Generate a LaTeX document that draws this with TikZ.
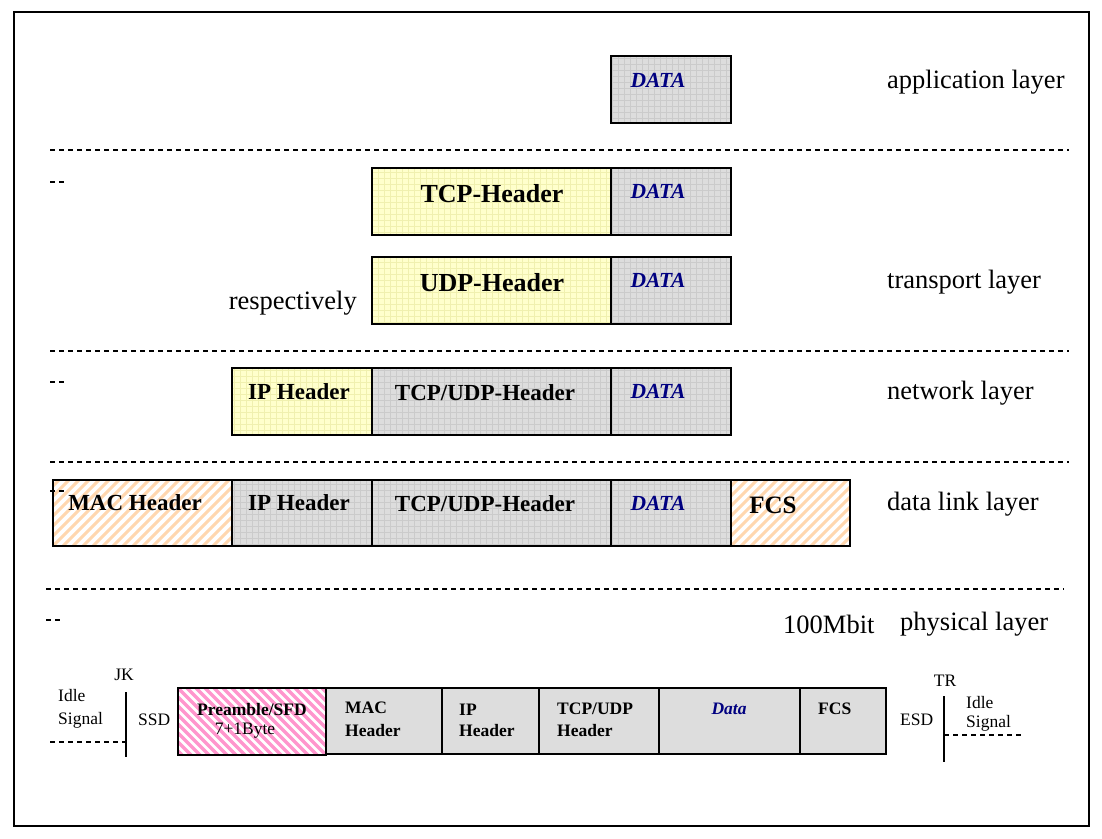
\documentclass[tikz,border=0pt]{standalone}
\usepackage{fontspec}
\setmainfont{Liberation Serif}
\usetikzlibrary{patterns.meta}
\definecolor{gfill}{RGB}{221,221,221}
\definecolor{gline}{RGB}{203,203,203}
\definecolor{yfill}{RGB}{255,255,204}
\definecolor{yline}{RGB}{240,240,175}
\definecolor{ostripe}{RGB}{255,215,175}
\definecolor{pstripe}{RGB}{255,150,205}
\definecolor{navyt}{RGB}{0,0,128}
\tikzset{
  boxline/.style={draw=black,line width=2.5pt},
  sepline/.style={line width=2pt,dash pattern=on 5pt off 4pt},
  lbl/.style={inner sep=0pt,font=\fontsize{26.5}{30}\selectfont},
  bighdr/.style={inner sep=0pt,font=\fontsize{26}{30}\selectfont\bfseries},
  midhdr/.style={inner sep=0pt,font=\fontsize{23}{27}\selectfont\bfseries},
  datatxt/.style={inner sep=0pt,text=navyt,font=\fontsize{21.5}{25}\selectfont\bfseries\itshape},
  smallt/.style={inner sep=0pt,font=\fontsize{17.5}{21}\selectfont},
  smallb/.style={inner sep=0pt,font=\fontsize{17.5}{21}\selectfont\bfseries},
  ostr/.style={draw=ostripe,line width=3pt},
  pstr/.style={draw=pstripe,line width=3.2pt},
}
\newcommand\gbx[4]{%
  \path[fill=gfill] (#1,#2) rectangle (#3,#4);
  \path[pattern={Lines[angle=0,distance=6pt,line width=0.6pt]},pattern color=gline] (#1,#2) rectangle (#3,#4);
  \path[pattern={Lines[angle=90,distance=6pt,line width=0.6pt]},pattern color=gline] (#1,#2) rectangle (#3,#4);
  \draw[boxline] (#1,#2) rectangle (#3,#4);}
\newcommand\ybx[4]{%
  \path[fill=yfill] (#1,#2) rectangle (#3,#4);
  \path[pattern={Lines[angle=0,distance=6pt,line width=0.6pt]},pattern color=yline] (#1,#2) rectangle (#3,#4);
  \path[pattern={Lines[angle=90,distance=6pt,line width=0.6pt]},pattern color=yline] (#1,#2) rectangle (#3,#4);
  \draw[boxline] (#1,#2) rectangle (#3,#4);}
\newcommand\obx[4]{%
  \path[fill=white] (#1,#2) rectangle (#3,#4);
  \begin{scope}
    \clip (#1,#2) rectangle (#3,#4);
    \foreach \k in {-8,...,20} \draw[ostr] (#1+\k*10,#4) -- ++(80,-80);
  \end{scope}
  \draw[boxline] (#1,#2) rectangle (#3,#4);}
\newcommand\pbx[4]{%
  \path[fill=white] (#1,#2) rectangle (#3,#4);
  \begin{scope}
    \clip (#1,#2) rectangle (#3,#4);
    \foreach \k in {-10,...,18} \draw[pstr] (#1+\k*9,#2) -- ++(80,80);
  \end{scope}
  \draw[boxline] (#1,#2) rectangle (#3,#4);}
\newcommand\sbx[4]{%
  \path[fill=gfill] (#1,#2) rectangle (#3,#4);
  \draw[boxline] (#1,#2) rectangle (#3,#4);}
\begin{document}
\begin{tikzpicture}[x=1pt,y=-1pt]
\useasboundingbox (0,0) rectangle (1102,838);
\path[fill=white] (0,0) rectangle (1102,838);
\draw[line width=1.8pt] (14,12) rectangle (1089,826);

% separators
\draw[sepline] (50,150) -- (1069,150);
\draw[sepline] (50,351) -- (1069,351);
\draw[sepline] (50,462) -- (1069,462);
\draw[sepline] (46,589) -- (1064,589);
\draw[sepline] (50,182) -- (67,182);
\draw[sepline] (50,382) -- (67,382);
\draw[sepline] (46,620) -- (63,620);

% application layer
\gbx{611}{56}{731}{123}
\node[datatxt] (d1) at (658,80) {DATA};
\node[lbl,anchor=west] (lapp) at (887,82) {application layer};

% transport layer
\ybx{372}{168}{611}{235}
\gbx{611}{168}{731}{235}
\node[bighdr] (tcph) at (492,194) {TCP-Header};
\node[datatxt] (d2) at (658,191) {DATA};
\ybx{372}{257}{611}{324}
\gbx{611}{257}{731}{324}
\node[bighdr] (udph) at (492,283) {UDP-Header};
\node[datatxt] (d3) at (658,280) {DATA};
\node[lbl,anchor=east] (resp) at (357,303) {respectively};
\node[lbl,anchor=west] (ltr) at (887,282) {transport layer};

% network layer
\ybx{232}{368}{372}{435}
\gbx{372}{368}{611}{435}
\gbx{611}{368}{731}{435}
\node[midhdr] (iph1) at (299,392) {IP Header};
\node[midhdr] (tuh1) at (485,393) {TCP/UDP-Header};
\node[datatxt] (d4) at (658,391) {DATA};
\node[lbl,anchor=west] (lnet) at (887,393) {network layer};

% data link layer
\obx{53}{480}{232}{546}
\gbx{232}{480}{372}{546}
\gbx{372}{480}{611}{546}
\gbx{611}{480}{731}{546}
\obx{731}{480}{850}{546}
\draw[sepline] (50,491) -- (67,491);
\node[midhdr] (mach) at (135,503) {MAC Header};
\node[midhdr] (iph2) at (299,503) {IP Header};
\node[midhdr] (tuh2) at (485,504) {TCP/UDP-Header};
\node[datatxt] (d5) at (658,503) {DATA};
\node[inner sep=0pt,font=\fontsize{25}{29}\selectfont\bfseries] (fcs1) at (773,505) {FCS};
\node[lbl,anchor=west] (ldl) at (887,504) {data link layer};

% physical layer
\node[lbl,anchor=west] (mbit) at (783,624) {100Mbit};
\node[lbl,anchor=west] (lphy) at (900,624) {physical layer};

\pbx{178}{688}{326}{755}
\sbx{326}{688}{442}{754}
\sbx{442}{688}{539}{754}
\sbx{539}{688}{659}{754}
\sbx{659}{688}{800}{754}
\sbx{800}{688}{886}{754}
\node[smallb] (pre) at (252,710) {Preamble/SFD};
\node[smallt] (byte) at (245,731) {7+1Byte};
\node[smallb,anchor=west] (mac2a) at (345,708) {MAC};
\node[smallb,anchor=west] (mac2b) at (345,731) {Header};
\node[smallb,anchor=west] (ip2a) at (459,710) {IP};
\node[smallb,anchor=west] (ip2b) at (459,731) {Header};
\node[smallb,anchor=west] (tu2a) at (557,709) {TCP/UDP};
\node[smallb,anchor=west] (tu2b) at (557,731) {Header};
\node[smallb,text=navyt,font=\fontsize{17.5}{21}\selectfont\bfseries\itshape] (dat) at (729,709) {Data};
\node[smallb,anchor=west] (fcs2) at (818,709) {FCS};

% left marker
\coordinate (jktop) at (126,692);
\coordinate (jkbot) at (126,757);
\coordinate (idleL) at (50,742);
\draw[line width=2pt] (jktop) -- (jkbot);
\draw[sepline] (idleL) -- (126,742);
\node[smallt] (jk) at (124,675) {JK};
\node[smallt,anchor=west] (idl1) at (58,696) {Idle};
\node[smallt,anchor=west] (sig1) at (58,720) {Signal};
\node[smallt,anchor=west] (ssd) at (138,720) {SSD};

% right marker
\coordinate (trtop) at (944,696);
\coordinate (trbot) at (944,762);
\coordinate (idleR) at (1021,735);
\draw[line width=2pt] (trtop) -- (trbot);
\draw[sepline] (944,735) -- (idleR);
\node[smallt] (tr) at (945,681) {TR};
\node[smallt,anchor=west] (esd) at (900,720) {ESD};
\node[smallt,anchor=west] (idl2) at (966,703) {Idle};
\node[smallt,anchor=west] (sig2) at (966,723) {Signal};
\end{tikzpicture}
\end{document}
